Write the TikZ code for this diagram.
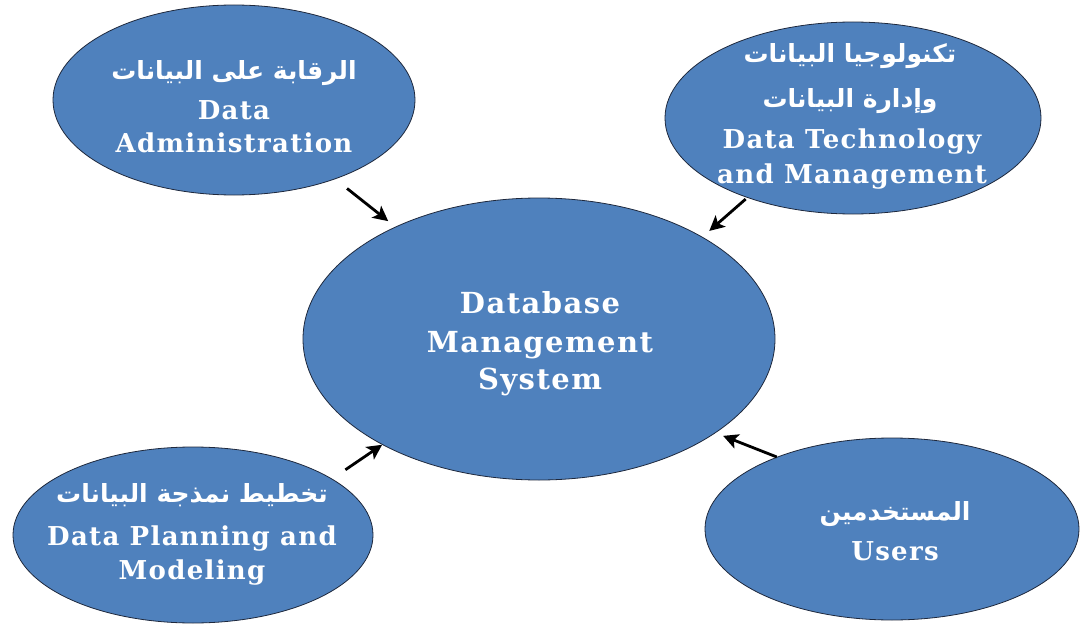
\documentclass[tikz,border=0pt]{standalone}
\usepackage{fontspec}
\setmainfont{DejaVu Serif}[LetterSpace=5]
\newfontfamily\arabicfont[Script=Arabic]{DejaVu Sans}
\TeXXeTstate=1
\usetikzlibrary{shapes.geometric,arrows.meta}
\definecolor{blobblue}{RGB}{79,129,189}
\definecolor{blobedge}{RGB}{30,40,60}
\tikzset{
  blob/.style={ellipse, draw=blobedge, line width=0.8pt, fill=blobblue, inner sep=0pt},
  en/.style={anchor=base, text=white, font=\bfseries\fontsize{26}{30}\selectfont, inner sep=0pt},
  enbig/.style={anchor=base, text=white, font=\bfseries\fontsize{29}{36}\selectfont, inner sep=0pt},
  ar/.style={anchor=base, text=white, font=\arabicfont\bfseries\fontsize{25}{30}\selectfont, inner sep=0pt},
  arr/.style={line width=2.8pt, -{Stealth[length=15pt,width=15pt,inset=3.5pt]}}
}
\begin{document}
\begin{tikzpicture}[x=1pt,y=-1pt]
\useasboundingbox (0,0) rectangle (1080,626);
% ellipses
\node[blob, minimum width=472pt, minimum height=282pt] (c) at (539,339) {};
\node[blob, minimum width=362pt, minimum height=190pt] (tl) at (234,100) {};
\node[blob, minimum width=376pt, minimum height=192pt] (tr) at (853,118) {};
\node[blob, minimum width=360pt, minimum height=176pt] (bl) at (193,535) {};
\node[blob, minimum width=374pt, minimum height=182pt] (br) at (892,529) {};
% centre text
\node[enbig] (c1) at (540,313) {Database};
\node[enbig] (c2) at (540,352) {Management};
\node[enbig] (c3) at (540,389) {System};
% top left
\node[ar] (tl1) at (234,80) {\beginR الرقابة على البيانات\endR};
\node[en] (tl2) at (234,119) {Data};
\node[en] (tl3) at (234,153) {Administration};
% top right
\node[ar] (tr1) at (850,63) {\beginR تكنولوجيا البيانات\endR};
\node[ar] (tr2) at (850,108) {\beginR وإدارة البيانات\endR};
\node[en] (tr3) at (852,149) {Data Technology};
\node[en] (tr4) at (852,183) {and Management};
% bottom left
\node[ar] (bl1) at (192,502) {\beginR تخطيط نمذجة البيانات\endR};
\node[en] (bl2) at (192,545) {Data Planning and};
\node[en] (bl3) at (192,579) {Modeling};
% bottom right
\node[ar] (br1) at (895,520) {\beginR المستخدمين\endR};
\node[en] (br2) at (895,560) {Users};
% arrows
\draw[arr, shorten <=15pt, shorten >=9pt] (tl.-38.7) -- (c.142.4);
\draw[arr, shorten <=2pt, shorten >=9pt] (tr.217.4) -- (c.32.7);
\draw[arr, shorten <=16pt, shorten >=0pt] (bl.22.5) -- (c.214.9);
\draw[arr, shorten <=0pt, shorten >=8pt] (br.148.4) -- (c.-28.2);
\end{tikzpicture}
\end{document}
